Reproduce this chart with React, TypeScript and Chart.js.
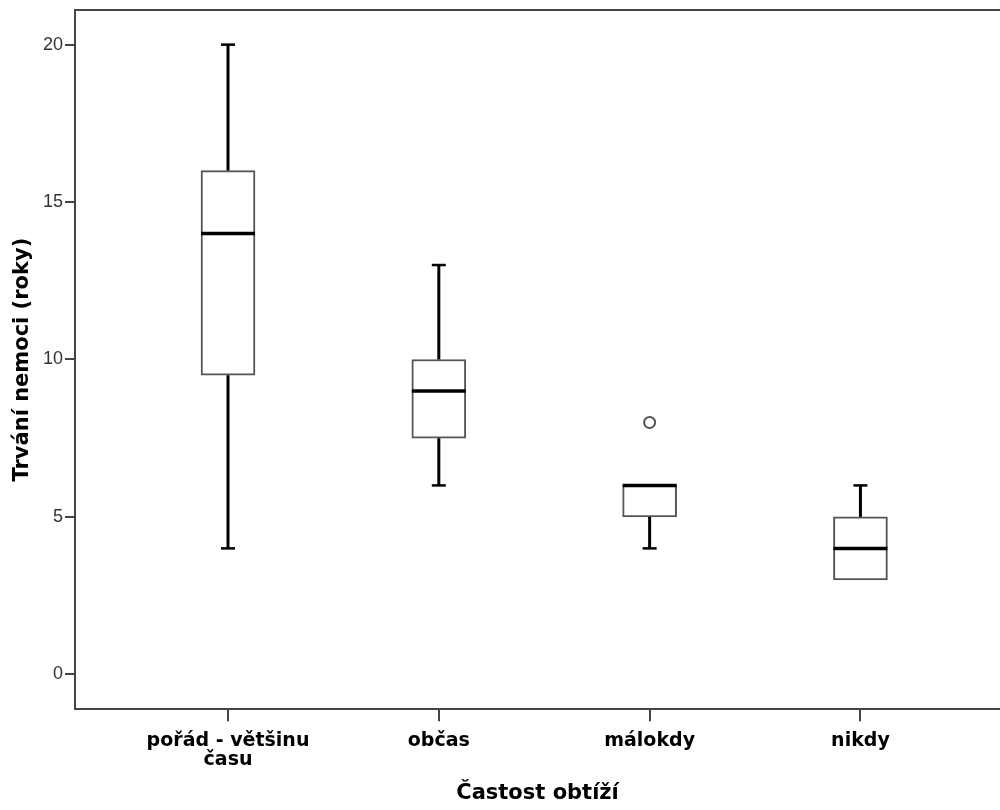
import React, { useEffect, useRef } from "react";
import { Chart, registerables } from "chart.js";

Chart.register(...registerables);

// ---- data ----
const categories: (string | string[])[] = [["pořád - většinu", "času"], "občas", "málokdy", "nikdy"];
const mins = [4, 6, 4, 3];
const q1s = [9.5, 7.5, 5, 3];
const medians = [14, 9, 6, 4];
const q3s = [16, 10, 6, 5];
const maxs = [20, 13, 6, 6];
const outlierCats = [2];
const outlierVals = [8];
const yTicks = [0, 5, 10, 15, 20];
const xTitle = "Častost obtíží";
const yTitle = "Trvání nemoci (roky)";

const AXIS_COLOR = "#444444";

const boxplotPlugin = {
  id: "boxplotParts",
  afterDatasetsDraw(chart: any) {
    const xs = chart.scales.x;
    const ys = chart.scales.y;
    const ctx = chart.ctx;
    ctx.save();
    ctx.strokeStyle = "#000000";
    ctx.lineCap = "butt";
    for (let i = 0; i < categories.length; i++) {
      const cx = xs.getPixelForValue(i);
      const capHalf = 7;
      const drawWhisker = (from: number, to: number) => {
        const y1 = ys.getPixelForValue(from);
        const y2 = ys.getPixelForValue(to);
        ctx.lineWidth = 3;
        ctx.beginPath();
        ctx.moveTo(cx, y1);
        ctx.lineTo(cx, y2);
        ctx.stroke();
        ctx.lineWidth = 2.5;
        ctx.beginPath();
        ctx.moveTo(cx - capHalf, y2);
        ctx.lineTo(cx + capHalf, y2);
        ctx.stroke();
      };
      if (maxs[i] > q3s[i]) drawWhisker(q3s[i], maxs[i]);
      if (mins[i] < q1s[i]) drawWhisker(q1s[i], mins[i]);
      // median
      const meta = chart.getDatasetMeta(0);
      const bar = meta.data[i];
      const half = bar ? bar.width / 2 : 26;
      const my = ys.getPixelForValue(medians[i]);
      ctx.lineWidth = 3.5;
      ctx.beginPath();
      ctx.moveTo(cx - half, my);
      ctx.lineTo(cx + half, my);
      ctx.stroke();
    }
    // top frame line
    const area = chart.chartArea;
    ctx.strokeStyle = AXIS_COLOR;
    ctx.lineWidth = 2;
    ctx.beginPath();
    ctx.moveTo(area.left - 1, area.top);
    ctx.lineTo(area.right, area.top);
    ctx.stroke();
    ctx.restore();
  },
};

export default function App() {
  const ref = useRef<HTMLCanvasElement | null>(null);

  useEffect(() => {
    if (!ref.current) return;
    const chart = new Chart(ref.current, {
      type: "bar",
      data: {
        datasets: [
          {
            type: "bar",
            label: "box",
            data: categories.map((_, i) => ({ x: i, y: [q1s[i], q3s[i]] })) as any,
            backgroundColor: "#ffffff",
            borderColor: "#555555",
            borderWidth: 2,
            borderSkipped: false,
            barThickness: 54,
          } as any,
          {
            type: "scatter",
            label: "outliers",
            data: outlierCats.map((c, i) => ({ x: c, y: outlierVals[i] })),
            pointRadius: 5.5,
            pointBackgroundColor: "#ffffff",
            pointBorderColor: "#555555",
            pointBorderWidth: 2,
          } as any,
        ],
      },
      options: {
        animation: false,
        responsive: false,
        layout: { autoPadding: false, padding: { top: 10, left: 0, right: 0, bottom: 0 } },
        plugins: {
          legend: { display: false },
          tooltip: { enabled: false },
        },
        scales: {
          x: {
            type: "linear",
            offset: false,
            min: -0.7258,
            max: 3.662,
            afterBuildTicks: (scale: any) => {
              scale.ticks = categories.map((_, i) => ({ value: i }));
            },
            afterFit: (scale: any) => {
              scale.height = 100.7;
              scale.paddingLeft = 0;
              scale.paddingRight = 0;
            },
            ticks: {
              autoSkip: false,
              maxRotation: 0,
              minRotation: 0,
              padding: 10,
              color: "#000000",
              font: { family: "'DejaVu Sans', sans-serif", weight: "bold", size: 19, lineHeight: 1.0 },
              callback: (v: any) => categories[v as number] as any,
            },
            grid: {
              offset: false,
              drawOnChartArea: false,
              drawTicks: true,
              tickLength: 12,
              color: AXIS_COLOR,
              lineWidth: 2,
            },
            border: { display: true, color: AXIS_COLOR, width: 2 },
            title: {
              display: true,
              text: xTitle,
              color: "#000000",
              font: { family: "'DejaVu Sans', sans-serif", weight: "bold", size: 21 },
              padding: { top: 0, bottom: 4 },
            },
          },
          y: {
            type: "linear",
            min: -1.111,
            max: 21.1,
            afterBuildTicks: (scale: any) => {
              scale.ticks = yTicks.map((v) => ({ value: v }));
            },
            afterFit: (scale: any) => {
              scale.width = 75;
              scale.paddingTop = 0;
              scale.paddingBottom = 0;
            },
            ticks: {
              padding: 2,
              color: "#333333",
              font: { family: "'Liberation Sans', Arial, sans-serif", size: 18 },
              callback: (v: any) => String(v),
            },
            grid: {
              drawOnChartArea: false,
              drawTicks: true,
              tickLength: 10,
              color: AXIS_COLOR,
              lineWidth: 2,
            },
            border: { display: true, color: AXIS_COLOR, width: 2 },
            title: {
              display: true,
              text: yTitle,
              color: "#000000",
              font: { family: "'DejaVu Sans', sans-serif", weight: "bold", size: 21 },
              padding: { top: 10, bottom: 0 },
            },
          },
        },
      } as any,
      plugins: [boxplotPlugin],
    });
    return () => chart.destroy();
  }, []);

  return (
    <div style={{ position: "absolute", left: 0, top: 0, width: 1000, height: 810, background: "#ffffff" }}>
      <canvas ref={ref} width={1000} height={810} style={{ display: "block" }} />
    </div>
  );
}
